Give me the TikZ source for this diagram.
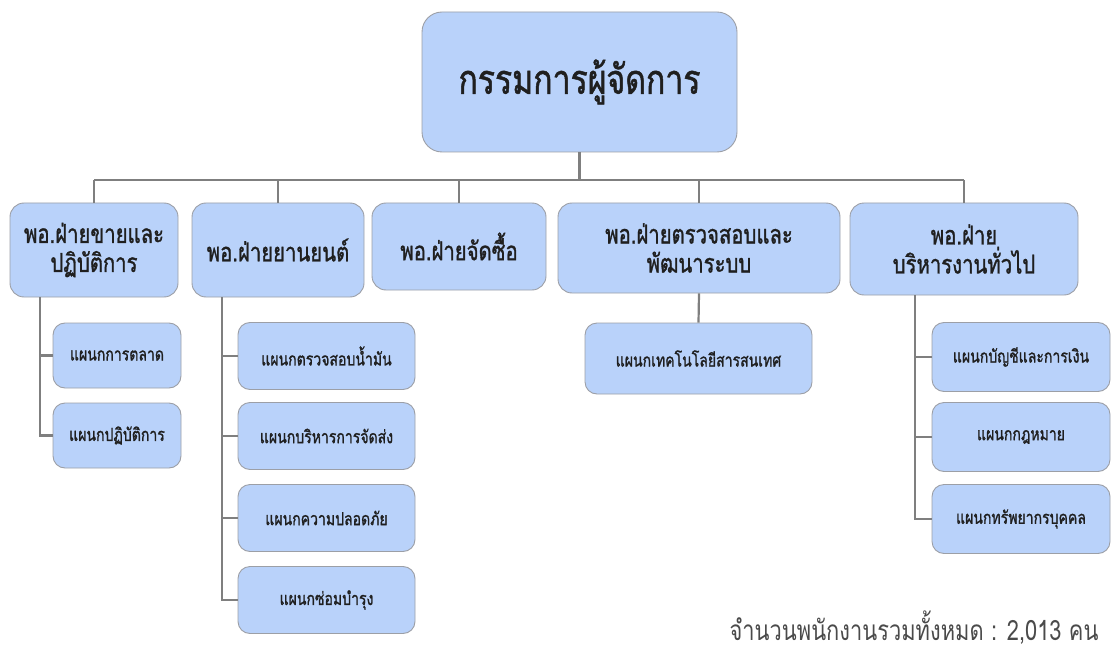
\documentclass[tikz,border=0pt]{standalone}
\usepackage{fontspec}
\newfontfamily\thaifont[Script=Thai,FakeStretch=0.78,FakeBold=1.2]{Loma}
\newfontfamily\thainote[Script=Thai,FakeStretch=0.78]{Loma}
\usepackage{tikz}
\usetikzlibrary{calc,positioning}
\definecolor{boxfill}{HTML}{B9D2FA}
\definecolor{boxline}{HTML}{9C9FA6}
\definecolor{linkline}{HTML}{7F7F7F}
\definecolor{notegray}{HTML}{4A4A4A}
\tikzset{
	unit/.style={draw=boxline, line width=0.9pt, fill=boxfill, rounded corners=14pt, align=center, text=black!88, inner sep=2pt},
	topunit/.style={unit, font=\thaifont\fontsize{41}{46}\selectfont, rounded corners=20pt},
	deptunit/.style={unit, font=\thaifont\fontsize{26}{29}\selectfont},
	subunit/.style={unit, font=\thaifont\fontsize{18}{20}\selectfont, rounded corners=12pt},
	link/.style={draw=linkline, line width=2.2pt}
}
\begin{document}
\begin{tikzpicture}[x=1pt,y=-1pt]
								\useasboundingbox (0,0) rectangle (1115,652);

								\node[topunit, minimum width=315pt, minimum height=140pt] (md) at (579.5,82) {กรรมการผู้จัดการ};

							    \node[deptunit, minimum width=168pt, minimum height=94pt] (sales) at (94,250) {พอ.ฝ่ายขายและ\\ปฏิบัติการ};
							    \node[deptunit, minimum width=172pt, minimum height=94pt] (fleet) at (278,250) {พอ.ฝ่ายยานยนต์};
							    \node[deptunit, minimum width=174pt, minimum height=87pt] (buy) at (459,246.5) {พอ.ฝ่ายจัดซื้อ};
							    \node[deptunit, minimum width=282pt, minimum height=90pt] (audit) at (699,248) {พอ.ฝ่ายตรวจสอบและ\\พัฒนาระบบ};
							    \node[deptunit, minimum width=228pt, minimum height=92pt] (admin) at (964,249) {พอ.ฝ่าย\\บริหารงานทั่วไป};

								\node[subunit, minimum width=128pt, minimum height=65pt] (mkt) at (117,355.5) {แผนกการตลาด};
								\node[subunit, minimum width=128pt, minimum height=65pt] (ops) at (117,435.5) {แผนกปฏิบัติการ};

								\node[subunit, minimum width=177pt, minimum height=67pt] (fuel) at (326.5,356) {แผนกตรวจสอบน้ำมัน};
								\node[subunit, minimum width=177pt, minimum height=67pt] (ship) at (326.5,436) {แผนกบริหารการจัดส่ง};
								\node[subunit, minimum width=177pt, minimum height=67pt] (safe) at (326.5,518) {แผนกความปลอดภัย};
								\node[subunit, minimum width=177pt, minimum height=67pt] (fix) at (326.5,600) {แผนกซ่อมบำรุง};

								\node[subunit, minimum width=227pt, minimum height=71pt] (it) at (698.5,358.5) {แผนกเทคโนโลยีสารสนเทศ};

								\node[subunit, minimum width=178pt, minimum height=69pt] (acc) at (1021,357) {แผนกบัญชีและการเงิน};
								\node[subunit, minimum width=178pt, minimum height=69pt] (law) at (1021,437) {แผนกกฎหมาย};
								\node[subunit, minimum width=178pt, minimum height=69pt] (hr) at (1021,519) {แผนกทรัพยากรบุคคล};

								\node[anchor=east, text=notegray, font=\thainote\fontsize{28}{30}\selectfont] (total) at (1102,628) {จำนวนพนักงานรวมทั้งหมด : 2,013 คน};

								% tree lines
								\coordinate (bus) at (0,180);
								\coordinate (trunkA) at (40,0);
								\coordinate (trunkB) at (222,0);
								\coordinate (trunkE) at (915,0);

								\draw[link] (md.south) -- (md.south |- bus);
								\draw[link] (sales.north |- bus) -- (admin.north |- bus);
								\foreach \d in {sales,fleet,buy,audit,admin}
									\draw[link] (\d.north |- bus) -- (\d.north);

								\foreach \s in {mkt,ops}
									\draw[link] (sales.south -| trunkA) |- (\s.west);
								\foreach \s in {fuel,ship,safe,fix}
									\draw[link] (fleet.south -| trunkB) |- (\s.west);
								\draw[link] (audit.south) -- (it.north);
								\foreach \s in {acc,law,hr}
									\draw[link] (admin.south -| trunkE) |- (\s.west);
\end{tikzpicture}
\end{document}
